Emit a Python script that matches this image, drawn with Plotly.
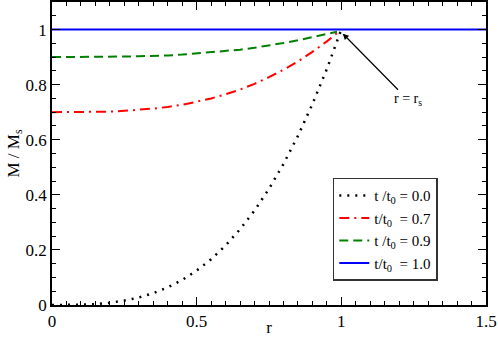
import plotly.graph_objects as go

# radius values and M/Ms curves
r_vals = [0.0, 0.05, 0.1, 0.15, 0.2, 0.25, 0.3, 0.35, 0.4, 0.45, 0.5,
          0.55, 0.6, 0.65, 0.7, 0.75, 0.8, 0.85, 0.9, 0.95, 1.0]
m_t00 = [0.0, 0.0, 0.001, 0.003, 0.008, 0.016, 0.027, 0.043, 0.064, 0.091, 0.125,
         0.166, 0.216, 0.275, 0.343, 0.422, 0.512, 0.614, 0.729, 0.857, 1.0]
r_part = [0.0, 0.05, 0.1, 0.15, 0.2, 0.25, 0.3, 0.35, 0.4, 0.45, 0.5,
          0.55, 0.6, 0.65, 0.7, 0.75, 0.8, 0.85, 0.9, 0.95, 0.985]
m_t07 = [0.7, 0.7, 0.7, 0.701, 0.702, 0.705, 0.708, 0.713, 0.719, 0.727, 0.738,
         0.75, 0.765, 0.782, 0.803, 0.827, 0.854, 0.884, 0.919, 0.957, 0.987]
m_t09 = [0.9, 0.9, 0.9, 0.9, 0.901, 0.902, 0.903, 0.904, 0.906, 0.909, 0.913,
         0.917, 0.922, 0.927, 0.934, 0.942, 0.951, 0.961, 0.973, 0.986, 0.992]
r_full = [0.0, 1.5]
m_t10 = [1.0, 1.0]

labels = ['t /t<sub>0</sub> = 0.0', 't/t<sub>0</sub>  = 0.7',
          't /t<sub>0</sub> = 0.9', 't/t<sub>0</sub>  = 1.0']

serif = 'Times New Roman, Liberation Serif, serif'

fig = go.Figure(
    data=[
        go.Scatter(x=r_vals, y=m_t00, mode='lines', name=labels[0],
                   line=dict(color='black', width=2.5, dash='2px,6px')),
        go.Scatter(x=r_part, y=m_t07, mode='lines', name=labels[1],
                   line=dict(color='red', width=2, dash='10px,5px,2px,5px')),
        go.Scatter(x=r_part, y=m_t09, mode='lines', name=labels[2],
                   line=dict(color='green', width=2, dash='9px,5px')),
        go.Scatter(x=r_full, y=m_t10, mode='lines', name=labels[3],
                   line=dict(color='blue', width=2)),
    ],
    layout=go.Layout(
        width=498, height=337,
        margin=dict(l=52, r=12, t=2, b=32),
        plot_bgcolor='white', paper_bgcolor='white',
        font=dict(family=serif, size=17, color='black'),
        xaxis=dict(
            range=[0, 1.5], tickvals=[0, 0.5, 1, 1.5], ticktext=['0', '0.5', '1', '1.5'],
            ticks='inside', ticklen=8, tickcolor='black', showgrid=False, zeroline=False,
            showline=True, linecolor='black', linewidth=1.5, mirror='ticks',
            minor=dict(dtick=0.05, ticks='inside', ticklen=4, tickcolor='black', showgrid=False),
            title=dict(text='r', font=dict(size=17), standoff=0),
            automargin=False,
        ),
        yaxis=dict(
            range=[0, 1.1], tickvals=[0, 0.2, 0.4, 0.6, 0.8, 1],
            ticktext=['0', '0.2', '0.4', '0.6', '0.8', '1'],
            ticks='inside', ticklen=8, tickcolor='black', showgrid=False, zeroline=False,
            showline=True, linecolor='black', linewidth=1.5, mirror='ticks',
            minor=dict(dtick=0.05, ticks='inside', ticklen=4, tickcolor='black', showgrid=False),
            title=dict(text='M / M<sub>s</sub>', font=dict(size=17), standoff=2),
            automargin=False,
        ),
        legend=dict(
            x=0.647, y=0.42, xanchor='left', yanchor='top',
            bordercolor='#333', borderwidth=1.5, bgcolor='white',
            font=dict(family=serif, size=15), itemwidth=30, tracegroupgap=0,
        ),
        annotations=[dict(
            x=1.005, y=0.985, xref='x', yref='y',
            ax=1.23, ay=0.745, axref='x', ayref='y',
            text='r = r<sub>s</sub>', showarrow=True,
            arrowhead=2, arrowsize=1, arrowwidth=1.2, arrowcolor='black',
            font=dict(family=serif, size=14),
        )],
    ),
)

fig.write_html("out.html", config={'displayModeBar': False},
               post_script="document.body.style.margin='0';")
